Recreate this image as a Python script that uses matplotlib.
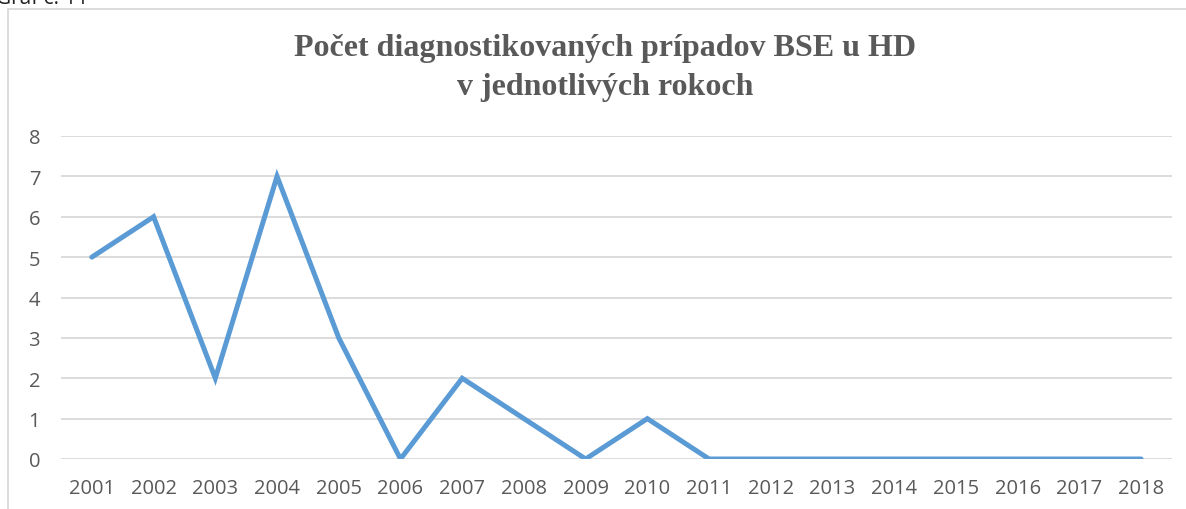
import matplotlib.pyplot as plt
from matplotlib.patches import Rectangle

years = [str(y) for y in range(2001, 2019)]
cases = [5, 6, 2, 7, 3, 0, 2, 1, 0, 1, 0, 0, 0, 0, 0, 0, 0, 0]
yticks = [0, 1, 2, 3, 4, 5, 6, 7, 8]

title = 'Počet diagnostikovaných prípadov BSE u HD\nv jednotlivých rokoch'

fig = plt.figure(figsize=(11.86, 5.10), dpi=100)
fig.patches.append(Rectangle((8 / 1186, -0.1), 1.2, (510 - 10) / 510 + 0.1,
                             transform=fig.transFigure, fill=False,
                             edgecolor='#d9d9d9', linewidth=1.3))
# caption above the chart, cut off by the top edge as in the source
fig.text(-0.003, 1.003, 'Graf č. 11', ha='left', va='center', fontsize=15,
         family='Open Sans', color='#222222')

ax = fig.add_axes([61 / 1186, 50 / 510, 1111 / 1186, 323 / 510])
x = range(len(years))
ax.plot(x, cases, color='#5b9bd5', linewidth=3.6, solid_capstyle='round',
        solid_joinstyle='miter')

ax.set_xlim(-0.5, len(years) - 0.5)
ax.set_ylim(0, 8)
ax.set_yticks(yticks)
ax.set_xticks(list(x))
ax.set_xticklabels(years)
ax.grid(axis='y', color='#d9d9d9', linewidth=1.3)
ax.set_axisbelow(True)
for s in ax.spines.values():
    s.set_visible(False)
ax.tick_params(length=0, labelsize=14.5, labelcolor='#595959')
ax.tick_params(axis='y', pad=15)
ax.tick_params(axis='x', pad=14)
for lab in ax.get_xticklabels() + ax.get_yticklabels():
    lab.set_family('Open Sans')

fig.text(605 / 1186, 1 - 68 / 510, title, ha='center', va='center',
         fontsize=23, fontweight='bold', family='Liberation Serif',
         color='#595959', linespacing=1.42)

fig.savefig('out.png', dpi=100)
